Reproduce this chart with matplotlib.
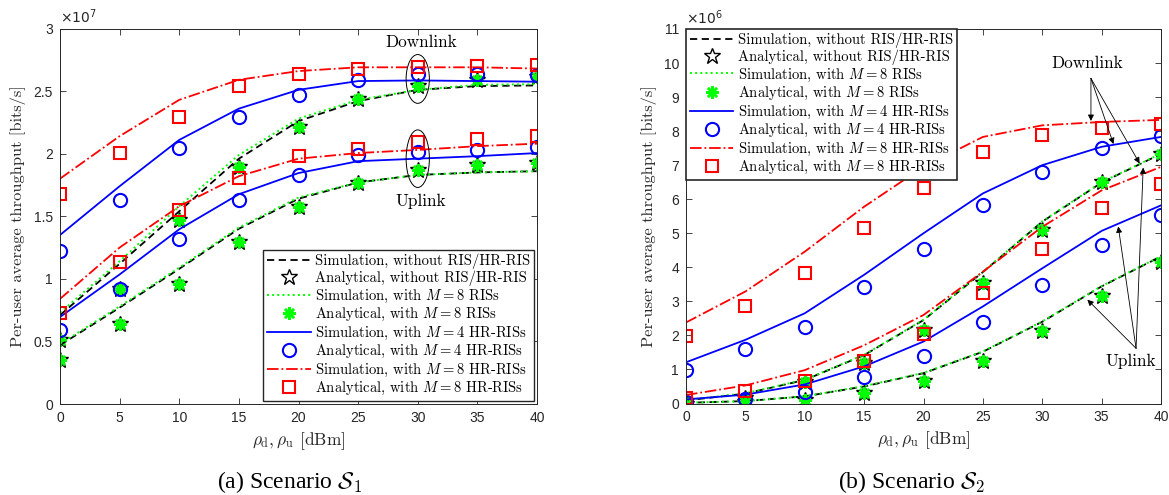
import matplotlib
matplotlib.use('Agg')
import matplotlib.pyplot as plt
from matplotlib.patches import Ellipse

plt.rcParams['mathtext.fontset'] = 'cm'
plt.rcParams['font.family'] = ['Liberation Sans', 'DejaVu Sans']
plt.rcParams['axes.unicode_minus'] = False

# ---------------- data ----------------
x_dbm = [0, 5, 10, 15, 20, 25, 30, 35, 40]

# Scenario S1 (units of 1e7 bits/s)
s1_dl_sim_none = [0.71, 1.12, 1.54, 1.96, 2.26, 2.42, 2.51, 2.54, 2.545]
s1_dl_sim_ris = [0.73, 1.14, 1.58, 1.99, 2.28, 2.43, 2.51, 2.55, 2.555]
s1_dl_ana_none = [0.51, 0.92, 1.47, 1.89, 2.21, 2.44, 2.54, 2.59, 2.61]
s1_dl_ana_ris = [0.51, 0.92, 1.47, 1.89, 2.21, 2.44, 2.54, 2.59, 2.61]
s1_dl_sim_hr4 = [1.35, 1.74, 2.11, 2.36, 2.51, 2.58, 2.585, 2.58, 2.575]
s1_dl_ana_hr4 = [1.22, 1.63, 2.045, 2.29, 2.47, 2.59, 2.635, 2.635, 2.63]
s1_dl_sim_hr8 = [1.80, 2.14, 2.43, 2.59, 2.66, 2.69, 2.69, 2.69, 2.68]
s1_dl_ana_hr8 = [1.68, 2.005, 2.29, 2.54, 2.64, 2.675, 2.69, 2.70, 2.71]

s1_ul_sim_none = [0.47, 0.77, 1.08, 1.40, 1.64, 1.77, 1.83, 1.85, 1.86]
s1_ul_sim_ris = [0.48, 0.78, 1.09, 1.41, 1.65, 1.77, 1.83, 1.85, 1.86]
s1_ul_ana_none = [0.353, 0.642, 0.96, 1.294, 1.57, 1.765, 1.87, 1.91, 1.925]
s1_ul_ana_ris = [0.353, 0.642, 0.96, 1.294, 1.57, 1.765, 1.87, 1.91, 1.925]
s1_ul_sim_hr4 = [0.695, 1.035, 1.396, 1.676, 1.845, 1.94, 1.96, 1.98, 2.005]
s1_ul_ana_hr4 = [0.588, 0.922, 1.315, 1.63, 1.83, 1.99, 2.01, 2.03, 2.05]
s1_ul_sim_hr8 = [0.84, 1.25, 1.58, 1.82, 1.96, 2.005, 2.03, 2.06, 2.08]
s1_ul_ana_hr8 = [0.727, 1.134, 1.548, 1.805, 1.98, 2.04, 2.09, 2.12, 2.14]

# Scenario S2 (units of 1e6 bits/s)
s2_dl_sim_none = [0.09, 0.29, 0.69, 1.42, 2.45, 3.86, 5.34, 6.49, 7.33]
s2_dl_sim_ris = [0.10, 0.30, 0.70, 1.43, 2.46, 3.87, 5.35, 6.50, 7.34]
s2_dl_ana_none = [0.06, 0.16, 0.62, 1.19, 2.17, 3.55, 5.11, 6.52, 7.34]
s2_dl_ana_ris = [0.06, 0.16, 0.62, 1.19, 2.17, 3.55, 5.11, 6.52, 7.34]
s2_dl_sim_hr4 = [1.21, 1.87, 2.65, 3.78, 5.00, 6.17, 7.00, 7.54, 7.83]
s2_dl_ana_hr4 = [0.98, 1.61, 2.26, 3.41, 4.53, 5.84, 6.79, 7.49, 7.86]
s2_dl_sim_hr8 = [2.38, 3.29, 4.46, 5.78, 6.95, 7.83, 8.17, 8.27, 8.33]
s2_dl_ana_hr8 = [1.97, 2.85, 3.82, 5.16, 6.34, 7.39, 7.90, 8.10, 8.22]

s2_ul_sim_none = [0.02, 0.07, 0.21, 0.50, 0.89, 1.52, 2.40, 3.44, 4.32]
s2_ul_sim_ris = [0.02, 0.07, 0.21, 0.51, 0.90, 1.53, 2.41, 3.45, 4.33]
s2_ul_ana_none = [0.0, 0.03, 0.10, 0.31, 0.65, 1.24, 2.12, 3.17, 4.17]
s2_ul_ana_ris = [0.0, 0.03, 0.10, 0.31, 0.65, 1.24, 2.12, 3.17, 4.17]
s2_ul_sim_hr4 = [0.12, 0.26, 0.56, 1.09, 1.82, 2.85, 3.97, 5.07, 5.82]
s2_ul_ana_hr4 = [0.04, 0.14, 0.34, 0.77, 1.39, 2.39, 3.48, 4.67, 5.53]
s2_ul_sim_hr8 = [0.25, 0.53, 0.98, 1.71, 2.60, 3.87, 5.19, 6.26, 6.95]
s2_ul_ana_hr8 = [0.15, 0.36, 0.65, 1.24, 2.05, 3.26, 4.53, 5.73, 6.44]

legend_labels = [
    'Simulation, without RIS/HR-RIS',
    'Analytical, without RIS/HR-RIS',
    'Simulation, with $M=8$ RISs',
    'Analytical, with $M=8$ RISs',
    'Simulation, with $M=4$ HR-RISs',
    'Analytical, with $M=4$ HR-RISs',
    'Simulation, with $M=8$ HR-RISs',
    'Analytical, with $M=8$ HR-RISs',
]

AX_COL = '#262626'
SERIF = 'cmr10'

# styles
sty_sim_none = dict(color='k', ls='--', lw=1.3, dashes=(4, 2.5))
sty_ana_none = dict(color='k', ls='none', marker='*', ms=12, mfc='none', mew=1.0)
sty_sim_ris = dict(color='#00ff00', ls=':', lw=1.4)
sty_ana_ris = dict(color='#00ff00', ls='none', marker=(8, 2, 0), ms=9, mew=1.8)
sty_sim_hr4 = dict(color='#0000ff', ls='-', lw=1.3)
sty_ana_hr4 = dict(color='#0000ff', ls='none', marker='o', ms=9.5, mfc='none', mew=1.5)
sty_sim_hr8 = dict(color='#ff0000', ls='-.', lw=1.3)
sty_ana_hr8 = dict(color='#ff0000', ls='none', marker='s', ms=8, mfc='none', mew=1.5)


def draw_group(ax, sn, an, sr, ar, s4, a4, s8, a8):
    h = []
    h += ax.plot(x_dbm, sn, **sty_sim_none)
    h += ax.plot(x_dbm, an, **sty_ana_none)
    h += ax.plot(x_dbm, sr, **sty_sim_ris)
    h += ax.plot(x_dbm, ar, **sty_ana_ris)
    h += ax.plot(x_dbm, s4, **sty_sim_hr4)
    h += ax.plot(x_dbm, a4, **sty_ana_hr4)
    h += ax.plot(x_dbm, s8, **sty_sim_hr8)
    h += ax.plot(x_dbm, a8, **sty_ana_hr8)
    return h


def style_axes(ax, ylim, yticks, yticklabels, exp):
    ax.set_xlim(0, 40)
    ax.set_ylim(*ylim)
    ax.set_xticks(x_dbm)
    ax.set_yticks(yticks)
    ax.set_yticklabels(yticklabels)
    ax.tick_params(direction='in', top=True, right=True, length=4, width=0.6,
                   colors=AX_COL, labelsize=10, pad=5)
    for s in ax.spines.values():
        s.set_color(AX_COL)
        s.set_linewidth(0.7)
    ax.text(0.0, 1.006, r'$\times10^{%d}$' % exp, transform=ax.transAxes,
            ha='left', va='bottom', fontsize=10, color=AX_COL,
            math_fontfamily='dejavusans')
    ax.text(0.5, -0.0985, r'$\rho_{\rm d}, \rho_{\rm u}$ [dBm]', transform=ax.transAxes,
            ha='center', va='center', fontsize=12.5, family=SERIF, color=AX_COL)


fig = plt.figure(figsize=(11.69, 4.95), dpi=100)
ax1 = fig.add_axes([60 / 1169, (495 - 404) / 495, 477 / 1169, 375.5 / 495])
ax2 = fig.add_axes([686 / 1169, (495 - 403.5) / 495, 475 / 1169, 374.5 / 495])

# ---- left plot ----
h1 = draw_group(ax1, s1_dl_sim_none, s1_dl_ana_none, s1_dl_sim_ris, s1_dl_ana_ris,
                s1_dl_sim_hr4, s1_dl_ana_hr4, s1_dl_sim_hr8, s1_dl_ana_hr8)
draw_group(ax1, s1_ul_sim_none, s1_ul_ana_none, s1_ul_sim_ris, s1_ul_ana_ris,
           s1_ul_sim_hr4, s1_ul_ana_hr4, s1_ul_sim_hr8, s1_ul_ana_hr8)
style_axes(ax1, (0, 3), [0, 0.5, 1, 1.5, 2, 2.5, 3], ['0', '0.5', '1', '1.5', '2', '2.5', '3'], 7)
ax1.add_patch(Ellipse((30, 2.597), 1.95, 0.39, fill=False, ec='k', lw=0.7, zorder=5))
ax1.add_patch(Ellipse((30, 1.96), 1.95, 0.46, fill=False, ec='k', lw=0.7, zorder=5))
ax1.text(30.3, 2.887, 'Downlink', ha='center', va='center', fontsize=12.4, family=SERIF)
ax1.text(30.3, 1.62, 'Uplink', ha='center', va='center', fontsize=12.4, family=SERIF)
ax1.text(-0.088, 0.5, 'Per-user average throughput [bits/s]', transform=ax1.transAxes,
         rotation=90, ha='center', va='center', fontsize=11.8, family=SERIF, color=AX_COL)

leg_kw = dict(prop={'family': SERIF, 'size': 10.5}, handlelength=3.0, labelspacing=0.1,
              handletextpad=0.3, borderpad=0.25, fancybox=False, framealpha=1,
              edgecolor=AX_COL)
lg1 = ax1.legend(h1, legend_labels, loc='lower right', borderaxespad=0.2, **leg_kw)
lg1.get_frame().set_linewidth(1.0)

# ---- right plot ----
h2 = draw_group(ax2, s2_dl_sim_none, s2_dl_ana_none, s2_dl_sim_ris, s2_dl_ana_ris,
                s2_dl_sim_hr4, s2_dl_ana_hr4, s2_dl_sim_hr8, s2_dl_ana_hr8)
draw_group(ax2, s2_ul_sim_none, s2_ul_ana_none, s2_ul_sim_ris, s2_ul_ana_ris,
           s2_ul_sim_hr4, s2_ul_ana_hr4, s2_ul_sim_hr8, s2_ul_ana_hr8)
style_axes(ax2, (0, 11), list(range(12)), [str(i) for i in range(12)], 6)
ax2.text(-0.078, 0.5, 'Per-user average throughput [bits/s]', transform=ax2.transAxes,
         rotation=90, ha='center', va='center', fontsize=11.8, family=SERIF, color=AX_COL)

arrow_kw = dict(arrowstyle='-|>', color='k', lw=0.6, mutation_scale=9, shrinkA=0, shrinkB=0)
ax2.text(33.8, 10.0, 'Downlink', ha='center', va='center', fontsize=12.4, family=SERIF)
for head in [(34.1, 8.3), (36.0, 7.62), (38.2, 7.05)]:
    ax2.annotate('', xy=head, xytext=(34.1, 9.55), arrowprops=arrow_kw)
ax2.text(37.5, 1.25, 'Uplink', ha='center', va='center', fontsize=12.4, family=SERIF)
for head in [(33.8, 3.05), (36.4, 5.2), (38.5, 6.93)]:
    ax2.annotate('', xy=head, xytext=(37.9, 1.62), arrowprops=arrow_kw)

lg2 = ax2.legend(h2, legend_labels, loc='upper left', borderaxespad=0.0, **leg_kw)
lg2.get_frame().set_linewidth(1.2)

# captions
fig.text(289 / 1169, (495 - 482) / 495, r'(a) Scenario $\mathcal{S}_1$', ha='center',
         va='center', fontsize=17, family='Liberation Serif')
fig.text(911 / 1169, (495 - 482) / 495, r'(b) Scenario $\mathcal{S}_2$', ha='center',
         va='center', fontsize=17, family='Liberation Serif')

fig.savefig('out.png', dpi=100)
